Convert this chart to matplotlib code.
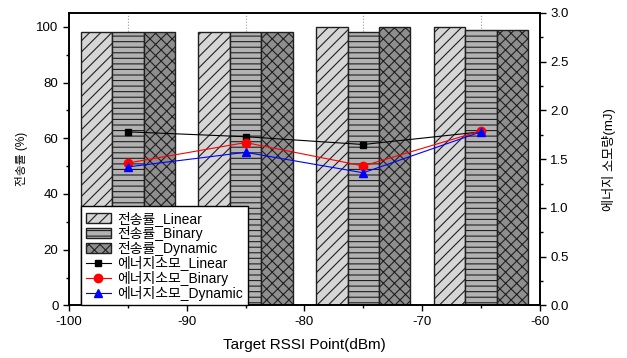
import numpy as np
import matplotlib.pyplot as plt
from matplotlib.patches import Patch
from matplotlib.lines import Line2D

plt.rcParams['font.family'] = ['Liberation Sans', 'Noto Sans CJK KR', 'DejaVu Sans']
plt.rcParams['hatch.linewidth'] = 0.8
plt.rcParams['axes.unicode_minus'] = False

# data
rssi = [-95, -85, -75, -65]
rate_linear = [98, 98, 100, 100]
rate_binary = [98, 98, 98, 99]
rate_dynamic = [98, 98, 100, 99]
energy_linear = [1.78, 1.73, 1.65, 1.78]
energy_binary = [1.46, 1.67, 1.43, 1.79]
energy_dynamic = [1.42, 1.57, 1.36, 1.78]

fig = plt.figure(figsize=(6.27, 3.58), dpi=100)
ax = fig.add_axes([0.110, 0.147, 0.751, 0.817])
ax2 = ax.twinx()

x = np.array(rssi, dtype=float)
w = 8 / 3
bar_styles = [
    (rate_linear, -w, '#d6d6d6', '///'),
    (rate_binary, 0, '#b2b2b2', '---'),
    (rate_dynamic, w, '#8e8e8e', 'xxx'),
]
for vals, off, fc, h in bar_styles:
    ax.bar(x + off, vals, width=w, color=fc, edgecolor='#202020', hatch=h,
           linewidth=1.0, zorder=2)

ax.set_xlim(-100, -60)
ax.set_ylim(0, 105)
ax.set_xticks([-100, -90, -80, -70, -60])
ax.set_xticks(rssi, minor=True)
ax.set_yticks([0, 20, 40, 60, 80, 100])
ax.set_yticks(np.arange(10, 105, 20), minor=True)
ax.grid(which='minor', axis='x', linestyle=':', color='#999999', linewidth=0.8, zorder=0)
ax.tick_params(axis='both', which='major', labelsize=9.5, length=4, width=1)
ax.tick_params(axis='both', which='minor', length=2.5, width=1)
ax.set_xlabel('Target RSSI Point(dBm)', fontsize=11, labelpad=7)
ax.set_ylabel('전송률 (%)', fontsize=8.5, labelpad=6)

ax2.plot(rssi, energy_linear, '-s', color='black', markersize=5, linewidth=0.8, zorder=3)
ax2.plot(rssi, energy_binary, '-o', color='red', markersize=6, linewidth=0.8, zorder=3)
ax2.plot(rssi, energy_dynamic, '-^', color='blue', markersize=6, linewidth=0.8, zorder=3)
ax2.set_ylim(0, 3.0)
ax2.set_yticks(np.arange(0, 3.01, 0.5))
ax2.set_yticks(np.arange(0.25, 3.0, 0.5), minor=True)
ax2.set_yticklabels(['%.1f' % v for v in np.arange(0, 3.01, 0.5)])
ax2.tick_params(axis='y', which='major', labelsize=9.5, length=4, width=1)
ax2.tick_params(axis='y', which='minor', length=2.5, width=1)
ax2.set_ylabel('에너지 소모량(mJ)', fontsize=9.5, labelpad=24)

for a in (ax, ax2):
    for s in a.spines.values():
        s.set_linewidth(1.2)

handles = [
    Patch(facecolor='#d6d6d6', edgecolor='#202020', hatch='///', label='전송률_Linear'),
    Patch(facecolor='#b2b2b2', edgecolor='#202020', hatch='---', label='전송률_Binary'),
    Patch(facecolor='#8e8e8e', edgecolor='#202020', hatch='xxx', label='전송률_Dynamic'),
    Line2D([], [], color='black', marker='s', markersize=5, linewidth=0.8, label='에너지소모_Linear'),
    Line2D([], [], color='red', marker='o', markersize=6, linewidth=0.8, label='에너지소모_Binary'),
    Line2D([], [], color='blue', marker='^', markersize=6, linewidth=0.8, label='에너지소모_Dynamic'),
]
leg = ax2.legend(handles=handles, loc='lower left', bbox_to_anchor=(0.025, 0.0),
                 fontsize=10, frameon=True, fancybox=False, borderaxespad=0,
                 handlelength=1.8, handletextpad=0.5, labelspacing=0.0,
                 borderpad=0.35)
leg.get_frame().set_edgecolor('black')
leg.get_frame().set_linewidth(1.0)
leg.get_frame().set_alpha(1)

fig.savefig('out.png', dpi=100)
